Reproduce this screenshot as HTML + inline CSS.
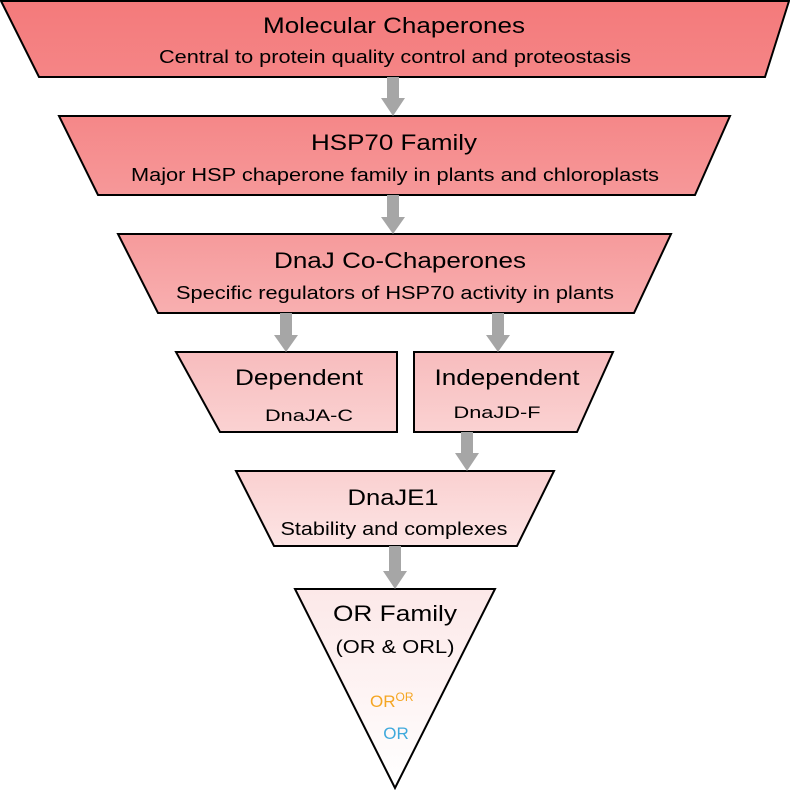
<!DOCTYPE html>
<html><head><meta charset="utf-8"><style>html,body{margin:0;padding:0;background:#fff}svg{display:block}</style></head><body>
<svg width="790" height="790" viewBox="0 0 790 790" xmlns="http://www.w3.org/2000/svg" font-family="Liberation Sans, sans-serif">
<defs>
<linearGradient id="g1" x1="0" y1="0" x2="0" y2="1"><stop offset="0" stop-color="#f47a7b"/><stop offset="1" stop-color="#f58586"/></linearGradient>
<linearGradient id="g2" x1="0" y1="0" x2="0" y2="1"><stop offset="0" stop-color="#f58788"/><stop offset="1" stop-color="#f69899"/></linearGradient>
<linearGradient id="g3" x1="0" y1="0" x2="0" y2="1"><stop offset="0" stop-color="#f69a9b"/><stop offset="1" stop-color="#f8afb0"/></linearGradient>
<linearGradient id="g4" x1="0" y1="0" x2="0" y2="1"><stop offset="0" stop-color="#f8bcbd"/><stop offset="1" stop-color="#fad2d2"/></linearGradient>
<linearGradient id="g5" x1="0" y1="0" x2="0" y2="1"><stop offset="0" stop-color="#fad0d0"/><stop offset="1" stop-color="#fce4e4"/></linearGradient>
<linearGradient id="g6" x1="0" y1="0" x2="0" y2="1"><stop offset="0" stop-color="#fce8e8"/><stop offset="1" stop-color="#ffffff"/></linearGradient>
</defs>
<g stroke="#000" stroke-width="2">
<polygon points="1,1 789,1 765,77 39,77" fill="url(#g1)"/>
<polygon points="59,116 730,116 695,195 98,195" fill="url(#g2)"/>
<polygon points="118,234 671,234 634,313 158,313" fill="url(#g3)"/>
<polygon points="176,352 397,352 397,432 220,432" fill="url(#g4)"/>
<polygon points="414,352 613,352 577,432 414,432" fill="url(#g4)"/>
<polygon points="236,471 554,471 517,546 274,546" fill="url(#g5)"/>
<polygon points="295,589 495,589 395,788" fill="url(#g6)"/>
</g>
<g fill="#a6a6a6">
<polygon points="387,77 399,77 399,98 405,98 393,116 381,98 387,98"/>
<polygon points="387,195 399,195 399,217 405,217 393,234 381,217 387,217"/>
<polygon points="280,313 292,313 292,335 298,335 286,352 274,335 280,335"/>
<polygon points="492,313 504,313 504,335 510,335 498,352 486,335 492,335"/>
<polygon points="461,432 473,432 473,453 479,453 467,471 455,453 461,453"/>
<polygon points="389,546 401,546 401,571 407,571 395,589 383,571 389,571"/>
</g>
<g fill="#000" text-anchor="middle">
<text x="394" y="33" font-size="22" textLength="262" lengthAdjust="spacingAndGlyphs">Molecular Chaperones</text>
<text x="395" y="63" font-size="18" textLength="472" lengthAdjust="spacingAndGlyphs">Central to protein quality control and proteostasis</text>
<text x="394" y="150" font-size="22" textLength="166" lengthAdjust="spacingAndGlyphs">HSP70 Family</text>
<text x="395" y="181" font-size="18" textLength="528" lengthAdjust="spacingAndGlyphs">Major HSP chaperone family in plants and chloroplasts</text>
<text x="400" y="268" font-size="22" textLength="252" lengthAdjust="spacingAndGlyphs">DnaJ Co-Chaperones</text>
<text x="395" y="299" font-size="18" textLength="438" lengthAdjust="spacingAndGlyphs">Specific regulators of HSP70 activity in plants</text>
<text x="299" y="385" font-size="22" textLength="128" lengthAdjust="spacingAndGlyphs">Dependent</text>
<text x="507" y="385" font-size="22" textLength="145" lengthAdjust="spacingAndGlyphs">Independent</text>
<text x="309" y="421" font-size="17" textLength="88" lengthAdjust="spacingAndGlyphs">DnaJA-C</text>
<text x="497" y="418" font-size="17" textLength="87" lengthAdjust="spacingAndGlyphs">DnaJD-F</text>
<text x="393" y="505" font-size="22" textLength="91" lengthAdjust="spacingAndGlyphs">DnaJE1</text>
<text x="394" y="535" font-size="18" textLength="227" lengthAdjust="spacingAndGlyphs">Stability and complexes</text>
<text x="395" y="621" font-size="22" textLength="124" lengthAdjust="spacingAndGlyphs">OR Family</text>
<text x="395" y="653" font-size="18" textLength="119" lengthAdjust="spacingAndGlyphs">(OR &amp; ORL)</text>
</g>
<text x="370" y="707" font-size="17" fill="#f5a623">OR<tspan font-size="12" dy="-6">OR</tspan></text>
<text x="396" y="739" font-size="17" fill="#3fa9dc" text-anchor="middle">OR</text>
</svg>
</body></html>
